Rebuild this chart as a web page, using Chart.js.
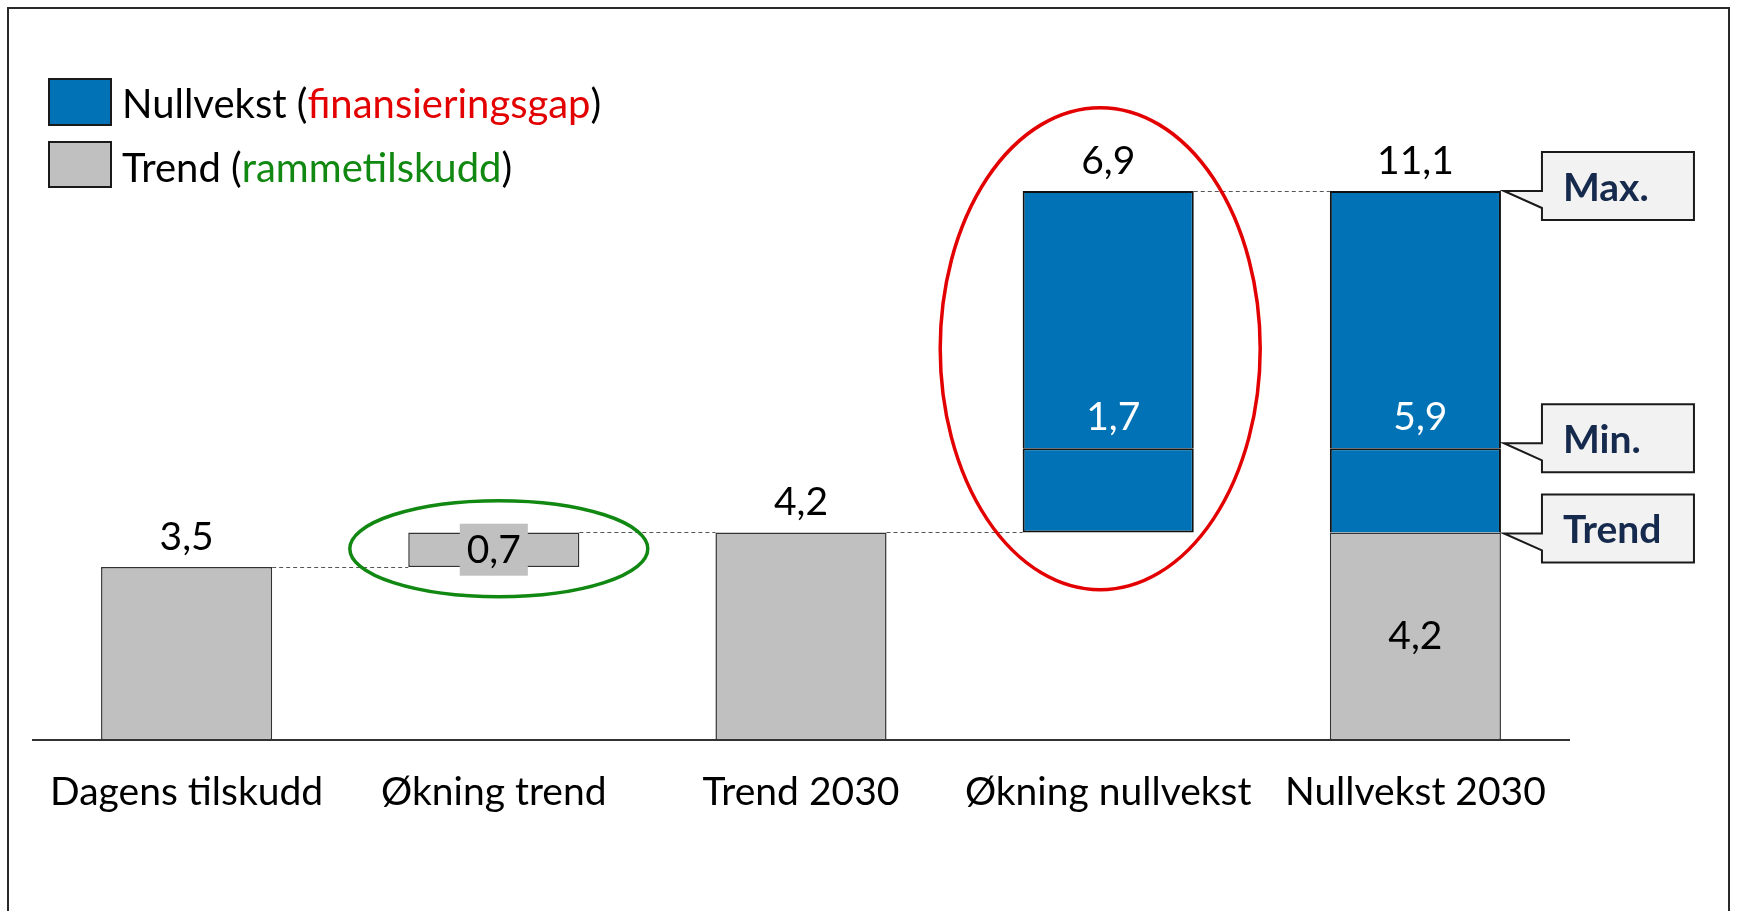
<!DOCTYPE html>
<html><head><meta charset="utf-8">
<script src="https://cdn.jsdelivr.net/npm/chart.js@4/dist/chart.umd.min.js"></script>
<style>html,body{margin:0;padding:0;background:#fff;overflow:hidden;}</style>
</head><body>
<canvas id="c" width="1737" height="911"></canvas>
<script>
const categories = ['Dagens tilskudd', 'Økning trend', 'Trend 2030', 'Økning nullvekst', 'Nullvekst 2030'];
const trendFrom = [0, 3.5, 0, null, 0];
const trendTo = [3.5, 4.2, 4.2, null, 4.2];
const gapMinFrom = [null, null, null, 4.2, 4.2];
const gapMinTo = [null, null, null, 5.9, 5.9];
const gapMaxTo = [null, null, null, 11.1, 11.1];
const calloutLabels = ['Max.', 'Min.', 'Trend'];
const legendNames = ['Nullvekst', 'Trend'];
const legendNotes = ['finansieringsgap', 'rammetilskudd'];

const GRAY = '#c0c0c0', BLUE = '#0072b5', NAVY = '#152a4c';
const FONT = 'Lato, "Open Sans", sans-serif';
const fmt = v => (Math.round(v * 10) / 10).toFixed(1).replace('.', ',');
const pair = (a, b) => categories.map((_, i) => (a[i] == null || b[i] == null) ? null : [a[i], b[i]]);

function bottomOf(i) { const s = [trendFrom[i], gapMinFrom[i]].filter(v => v != null); return Math.min(...s); }
function topOf(i) { const s = [trendTo[i], gapMaxTo[i]].filter(v => v != null); return Math.max(...s); }

const overlay = {
  id: 'overlay',
  beforeDraw(chart) {
    const ctx = chart.ctx;
    ctx.save();
    ctx.fillStyle = '#fff';
    ctx.fillRect(0, 0, chart.width, chart.height);
    ctx.strokeStyle = '#2a2a2a';
    ctx.lineWidth = 2;
    ctx.strokeRect(8, 8, 1721, 960);
    ctx.restore();
  },
  afterDatasetsDraw(chart) {
    const ctx = chart.ctx;
    const y = chart.scales.y;
    const meta = chart.getDatasetMeta(0);
    const metaG = chart.getDatasetMeta(2);
    const elAt = i => (meta.data[i] && trendTo[i] != null) ? meta.data[i] : metaG.data[i];
    ctx.save();
    // dashed connectors
    ctx.strokeStyle = '#555';
    ctx.lineWidth = 1;
    ctx.setLineDash([4, 3]);
    for (let i = 0; i < categories.length - 1; i++) {
      const a = elAt(i), b = elAt(i + 1);
      const py = Math.round(y.getPixelForValue(topOf(i))) + 0.5;
      ctx.beginPath();
      ctx.moveTo(a.x + a.width / 2, py);
      ctx.lineTo(b.x - b.width / 2, py);
      ctx.stroke();
    }
    ctx.setLineDash([]);

    // value labels
    ctx.font = '39px ' + FONT;
    ctx.textAlign = 'center';
    ctx.textBaseline = 'alphabetic';
    for (let i = 0; i < categories.length; i++) {
      const el = elAt(i);
      const bot = bottomOf(i), top = topOf(i);
      const floatingTrend = trendFrom[i] != null && trendFrom[i] > 0;
      if (floatingTrend) {
        const cy = (y.getPixelForValue(trendFrom[i]) + y.getPixelForValue(trendTo[i])) / 2;
        const txt = fmt(trendTo[i] - trendFrom[i]);
        const w = ctx.measureText(txt).width + 14;
        ctx.fillStyle = GRAY;
        ctx.fillRect(el.x - w / 2, cy - 26, w, 52);
        ctx.fillStyle = '#000';
        ctx.textBaseline = 'middle';
        ctx.fillText(txt, el.x, cy + 1);
        ctx.textBaseline = 'alphabetic';
      } else {
        ctx.fillStyle = '#000';
        ctx.fillText(fmt(top - bot), el.x, y.getPixelForValue(top) - 17);
      }
      if (gapMinTo[i] != null) {
        ctx.fillStyle = '#fff';
        ctx.fillText(fmt(gapMinTo[i] - bot), el.x + 5, y.getPixelForValue(gapMinTo[i]) - 18);
      }
      if (gapMinFrom[i] != null && trendTo[i] != null) {
        ctx.fillStyle = '#000';
        ctx.textBaseline = 'middle';
        const cy = (y.getPixelForValue(trendFrom[i]) + y.getPixelForValue(trendTo[i])) / 2;
        ctx.fillText(fmt(trendTo[i] - trendFrom[i]), el.x, cy);
        ctx.textBaseline = 'alphabetic';
      }
    }

    // ellipses
    const e1 = elAt(1);
    ctx.lineWidth = 3.5;
    ctx.strokeStyle = '#118811';
    ctx.beginPath();
    ctx.ellipse(e1.x + 5, (y.getPixelForValue(trendFrom[1]) + y.getPixelForValue(trendTo[1])) / 2 - 1, 149, 48, 0, 0, Math.PI * 2);
    ctx.stroke();
    const e3 = elAt(3);
    ctx.strokeStyle = '#e30000';
    ctx.beginPath();
    ctx.ellipse(e3.x - 8, (y.getPixelForValue(gapMinFrom[3]) + y.getPixelForValue(gapMaxTo[3])) / 2 - 13, 160, 241, 0, 0, Math.PI * 2);
    ctx.stroke();

    // callouts at last bar
    const last = categories.length - 1;
    const el = elAt(last);
    const levels = [gapMaxTo[last], gapMinTo[last], trendTo[last]];
    const dy = [0, -5, 1];
    ctx.font = 'bold 39px ' + FONT;
    ctx.textAlign = 'left';
    levels.forEach((v, k) => {
      const tx = el.x + el.width / 2 + 3;
      const ty = y.getPixelForValue(v) + dy[k];
      const bl = tx + 38, bt = ty - 39, bw = 152, bh = 68;
      ctx.beginPath();
      ctx.moveTo(bl, ty);
      ctx.lineTo(tx, ty);
      ctx.lineTo(bl, ty + 17);
      ctx.lineTo(bl, bt + bh);
      ctx.lineTo(bl + bw, bt + bh);
      ctx.lineTo(bl + bw, bt);
      ctx.lineTo(bl, bt);
      ctx.closePath();
      ctx.fillStyle = '#f2f2f2';
      ctx.fill();
      ctx.lineWidth = 2;
      ctx.strokeStyle = '#1a1a1a';
      ctx.stroke();
      ctx.fillStyle = NAVY;
      ctx.fillText(calloutLabels[k], bl + 21, bt + 49);
    });
    ctx.restore();
  },
  afterDraw(chart) {
    const ctx = chart.ctx;
    ctx.save();
    const colors = [BLUE, GRAY];
    const noteColors = ['#e30000', '#118811'];
    const rows = [{top: 79, h: 46, base: 118}, {top: 142, h: 45, base: 182}];
    ctx.font = '40px ' + FONT;
    ctx.textBaseline = 'alphabetic';
    ctx.textAlign = 'left';
    rows.forEach((r, k) => {
      ctx.fillStyle = colors[k];
      ctx.fillRect(49, r.top, 62, r.h);
      ctx.strokeStyle = '#1a1a1a';
      ctx.lineWidth = 2;
      ctx.strokeRect(49, r.top, 62, r.h);
      let x = 122;
      const parts = [[legendNames[k] + ' (', '#000'], [legendNotes[k], noteColors[k]], [')', '#000']];
      parts.forEach(([t, c]) => {
        ctx.fillStyle = c;
        ctx.fillText(t, x, r.base);
        x += ctx.measureText(t).width;
      });
    });
    ctx.restore();
  }
};

const barCommon = {
  grouped: false,
  categoryPercentage: 1,
  barPercentage: 0.557,
  borderSkipped: false
};

new Chart(document.getElementById('c'), {
  type: 'bar',
  data: {
    labels: categories,
    datasets: [
      Object.assign({label: legendNames[1], data: pair(trendFrom, trendTo), backgroundColor: GRAY, borderColor: '#333', borderWidth: 1.5}, barCommon),
      Object.assign({label: legendNames[0], data: pair(gapMinFrom, gapMinTo), backgroundColor: BLUE, borderColor: '#111',
        borderWidth: ctx => ({top: 2, left: 2, right: 2, bottom: trendTo[ctx.dataIndex] != null ? 0 : 2})}, barCommon),
      Object.assign({label: legendNames[0] + ' max', data: pair(gapMinTo, gapMaxTo), backgroundColor: BLUE, borderColor: '#111',
        borderWidth: {top: 2, left: 2, right: 2, bottom: 0}}, barCommon)
    ]
  },
  options: {
    responsive: false,
    animation: false,
    devicePixelRatio: 1,
    layout: {padding: {left: 33, right: 168, top: 97, bottom: 66}},
    plugins: {legend: {display: false}, tooltip: {enabled: false}},
    scales: {
      x: {
        offset: true,
        grid: {display: false, drawTicks: false},
        border: {display: true, color: '#333', width: 2},
        ticks: {font: {family: FONT, size: 39}, color: '#000', padding: 29, autoSkip: false, maxRotation: 0}
      },
      y: {display: false, min: 0, max: 13}
    }
  },
  plugins: [overlay]
});
</script>
</body></html>
